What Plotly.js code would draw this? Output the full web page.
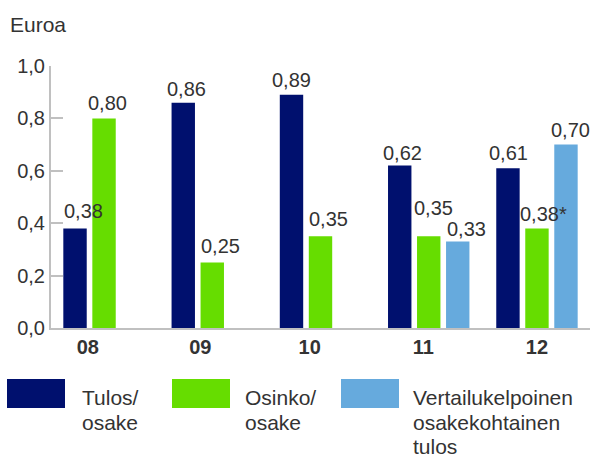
<!DOCTYPE html>
<html>
<head>
<meta charset="utf-8">
<script src="https://cdn.plot.ly/plotly-3.0.1.min.js"></script>
<style>html,body{margin:0;padding:0;background:#fff;}#chart{width:590px;height:459px;}</style>
</head>
<body>
<div id="chart"></div>
<script>
const categories = ['08', '09', '10', '11', '12'];
const tulos = [0.38, 0.86, 0.89, 0.62, 0.61];
const osinko = [0.80, 0.25, 0.35, 0.35, 0.38];
const vertailu = [null, null, null, 0.33, 0.70];
const osinkoNote = ['', '', '', '', '*'];
const seriesNames = ['Tulos/\nosake', 'Osinko/\nosake', 'Vertailukelpoinen\nosakekohtainen\ntulos'];
const seriesColors = ['#00106E', '#66DD00', '#66AADD'];
const yTitle = 'Euroa';

const W = 590, H = 459;
const M = {l: 51, r: 0, t: 66, b: 131};
const PW = W - M.l - M.r, PH = H - M.t - M.b;
const px2x = p => (p - M.l) / PW;
const py2y = p => (H - M.b - p) / PH;

const fmt = v => (v === null ? '' : v.toFixed(2).replace('.', ','));
const xs = categories.map((_, i) => i);
const labelShift = [-0.15, -0.11, -0.1, -0.05, 0];
const FONT = '"Liberation Sans", Arial, sans-serif';
const TXT = '#333333';
const BARGAP = 0.196;

const seriesValues = [tulos, osinko, vertailu];
const seriesText = [
  tulos.map(fmt),
  osinko.map((v, i) => fmt(v) + osinkoNote[i]),
  vertailu.map(fmt)
];

const traces = seriesValues.map((vals, k) => ({
  type: 'bar',
  x: xs,
  y: vals,
  name: seriesNames[k].replace(/\n/g, ' '),
  marker: {color: seriesColors[k]},
  hoverinfo: 'skip'
}));

// value-label pixel nudges (layout only)
const labelDx = [[8, 3, 0, 3, 1], [3, 8, 8, 5, 7], [0, 0, 0, 9, 5]];
const labelDy = [[4, 1, 2, 0, 2], [2, 4, 4, 15, 1], [0, 0, 0, 0, 2]];

const shapes = [];
const annotations = [];
const slot = (1 - BARGAP) / 3;
seriesValues.forEach((vals, k) => {
  vals.forEach((v, i) => {
    if (v === null) return;
    annotations.push({
      xref: 'x', yref: 'y',
      x: xs[i] + (k - 1) * slot, y: v,
      xanchor: 'center', yanchor: 'bottom',
      xshift: labelDx[k][i], yshift: labelDy[k][i],
      text: seriesText[k][i], showarrow: false,
      font: {family: FONT, size: 20, color: TXT}
    });
  });
});

// Custom legend
const legendBoxes = [[7, 65], [172, 230], [341, 399]];
const legendTextX = [80, 243, 411];
const legendLineY = [397, 422, 446];
seriesNames.forEach((nm, k) => {
  shapes.push({
    type: 'rect', xref: 'paper', yref: 'paper',
    x0: px2x(legendBoxes[k][0]), x1: px2x(legendBoxes[k][1]),
    y0: py2y(408), y1: py2y(379),
    fillcolor: seriesColors[k], line: {width: 0}
  });
  nm.split('\n').forEach((line, j) => {
    annotations.push({
      xref: 'paper', yref: 'paper',
      x: px2x(legendTextX[k]), y: py2y(legendLineY[j]),
      xanchor: 'left', yanchor: 'middle',
      text: line, showarrow: false,
      font: {family: FONT, size: 21, color: TXT}
    });
  });
});
annotations.push({
  xref: 'paper', yref: 'paper',
  x: px2x(8), y: py2y(24),
  xanchor: 'left', yanchor: 'middle',
  text: yTitle, showarrow: false,
  font: {family: FONT, size: 21, color: TXT}
});

const layout = {
  width: W, height: H,
  margin: M,
  paper_bgcolor: '#ffffff',
  plot_bgcolor: '#ffffff',
  separators: ', ',
  showlegend: false,
  barmode: 'group',
  bargap: BARGAP,
  bargroupgap: 0.193,
  font: {family: FONT, color: TXT},
  xaxis: {
    range: [-0.49, 4.49],
    tickmode: 'array',
    tickvals: xs.map((x, i) => x + labelShift[i]),
    ticktext: categories,
    ticks: '',
    showline: true, linecolor: '#c0c0c0', linewidth: 2,
    showgrid: false, zeroline: false,
    tickfont: {family: FONT, size: 20, color: TXT, weight: 'bold'},
    fixedrange: true
  },
  yaxis: {
    range: [0, 1],
    tickmode: 'linear', tick0: 0, dtick: 0.2,
    tickformat: '.1f',
    ticks: 'inside', ticklen: 12, tickwidth: 2, tickcolor: '#c0c0c0',
    showline: true, linecolor: '#c0c0c0', linewidth: 2,
    showgrid: false, zeroline: false,
    tickfont: {family: FONT, size: 20, color: TXT},
    fixedrange: true
  },
  shapes: shapes,
  annotations: annotations
};

Plotly.newPlot('chart', traces, layout, {displayModeBar: false, staticPlot: true});
</script>
</body>
</html>
